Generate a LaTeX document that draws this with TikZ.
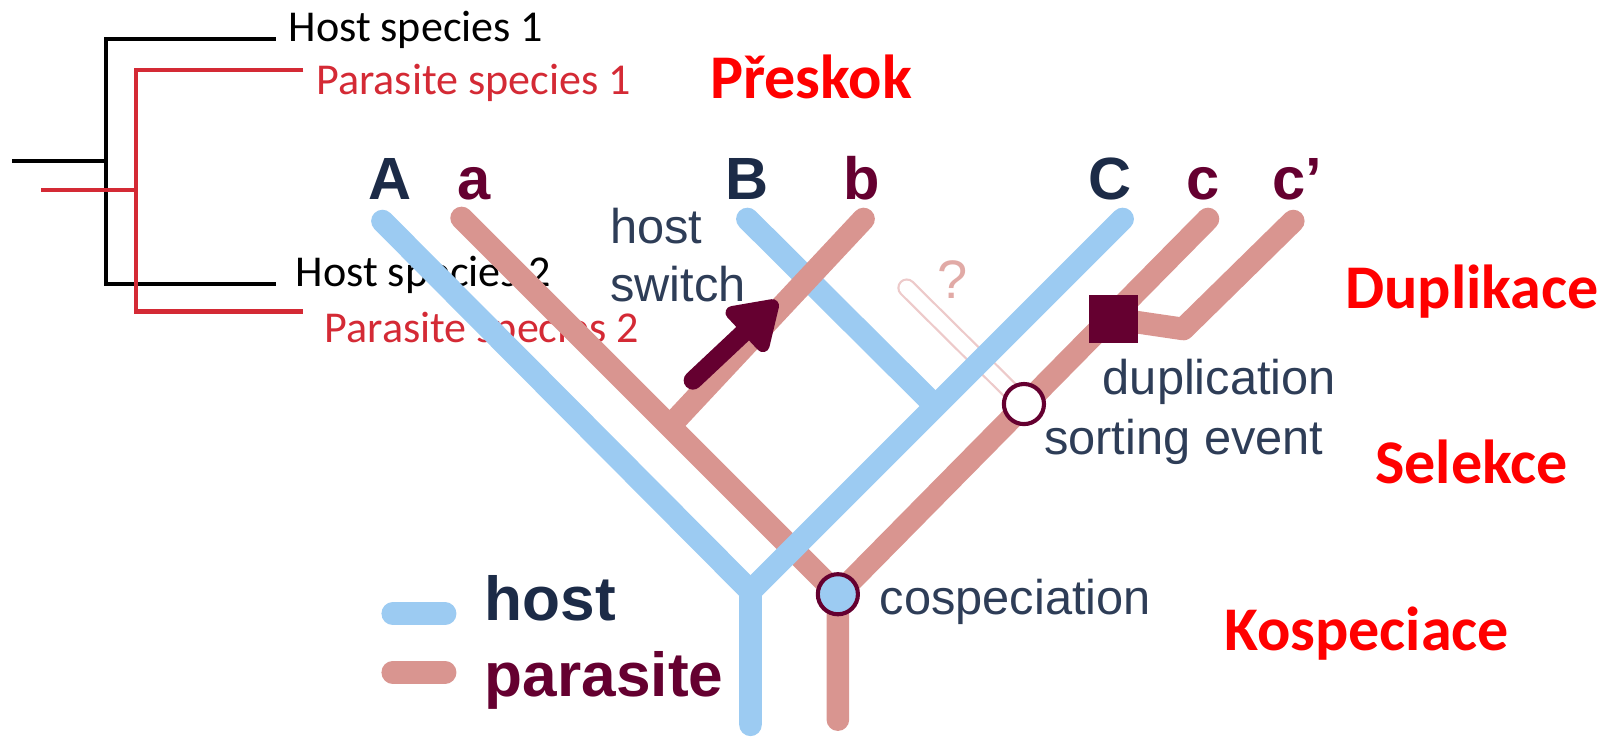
\documentclass[tikz,border=0pt]{standalone}
\usepackage{fontspec}
\setmainfont{Liberation Sans}
\newfontfamily\calib{Carlito}
\usetikzlibrary{arrows.meta}

\definecolor{hostblue}{HTML}{9CCBF2}
\definecolor{parapink}{HTML}{D99590}
\definecolor{maroon}{HTML}{650030}
\definecolor{navy}{HTML}{1C2B47}
\definecolor{treered}{HTML}{D42A35}
\definecolor{ghostpink}{HTML}{EDCACA}
\definecolor{labelgrey}{HTML}{2E3D57}

\tikzset{
  hostline/.style={hostblue, line width=2.2mm, line cap=round, line join=round},
  paraline/.style={parapink, line width=2.2mm, line cap=round, line join=round},
  ghostline/.style={draw=ghostpink, double=white, double distance=1.4mm, line width=0.22mm, line cap=round},
  treeline/.style={line width=0.4mm},
  treetext/.style={anchor=base west, inner sep=0pt, font=\calib\fontsize{12.2}{14}\selectfont},
  tiplabel/.style={anchor=base, inner sep=0pt, font=\bfseries\fontsize{16.5}{19}\selectfont},
  eventtext/.style={anchor=base west, inner sep=0pt, text=labelgrey, font=\fontsize{13.5}{16}\selectfont},
  czlabel/.style={anchor=base west, inner sep=0pt, text=red, font=\calib\bfseries\fontsize{17.2}{20}\selectfont},
  legendtext/.style={anchor=base west, inner sep=0pt, font=\bfseries\fontsize{17.2}{20}\selectfont},
  eventdot/.style={circle, draw=maroon, line width=0.4mm, minimum size=3.9mm, inner sep=0pt},
  dupbox/.style={rectangle, fill=maroon, minimum size=4.7mm, inner sep=0pt},
}

\begin{document}
\begin{tikzpicture}[x=0.1mm, y=-0.1mm]
\useasboundingbox (0,0) rectangle (1568,717);

% the two small trees
\coordinate (hroot0) at (12,157);
\coordinate (hnode) at (103,157);
\coordinate (hleaf1) at (268,38);
\coordinate (hleaf2) at (268,276);
\coordinate (proot0) at (40,185);
\coordinate (pnode) at (132,185);
\coordinate (pleaf1) at (295,68);
\coordinate (pleaf2) at (295,303);
\draw[treeline] (hroot0) -- (hnode);
\draw[treeline] (hleaf1) -| (hnode) |- (hleaf2);
\draw[treeline, treered] (proot0) -- (pnode);
\draw[treeline, treered] (pleaf1) -| (pnode) |- (pleaf2);
\node[treetext] (hs1) at (280,40) {Host species 1};
\node[treetext, text=treered] (ps1) at (307,92) {Parasite species 1};
\node[treetext] (hs2) at (287,279) {Host species 2};
\node[treetext, text=treered] (ps2) at (315,333) {Parasite species 2};

% tips
\node[tiplabel, text=navy] (A) at (379,194) {A};
\node[tiplabel, text=maroon] (a) at (461,194) {a};
\node[tiplabel, text=navy] (B) at (727,194) {B};
\node[tiplabel, text=maroon] (b) at (838,194) {b};
\node[tiplabel, text=navy] (C) at (1080,194) {C};
\node[tiplabel, text=maroon] (c) at (1170,194) {c};
\node[tiplabel, text=maroon] (cc) at (1262,194) {c’};

\coordinate (tA) at (372,215);
\coordinate (tB) at (727,213);
\coordinate (tC) at (1092,213);
\coordinate (hY) at (730,575);
\coordinate (hBC) at (908,393);
\coordinate (hbase) at (730,705);
\coordinate (ta) at (449,212);
\coordinate (tb) at (840,213);
\coordinate (tc) at (1175,213);
\coordinate (tcc) at (1258,215);
\coordinate (pcos) at (815,578);
\coordinate (pswitch) at (652,414);
\coordinate (pdup) at (1083,310);
\coordinate (pbend) at (1151,320);
\coordinate (psort) at (996,393);
\coordinate (pghost) at (882,280);
\coordinate (pbase) at (815,700);

% host and parasite trees
\draw[hostline] (tA) -- (hY) -- (hbase);
\draw[paraline] (ta) -- (pcos) -- (pbase);
\draw[ghostline] (psort) -- (pghost);
\draw[hostline] (tC) -- (hY);
\draw[hostline] (tB) -- (hBC);
\draw[paraline] (tb) -- (pswitch);
\draw[paraline] (tc) -- (pcos);
\draw[paraline] (tcc) -- (pbend) -- (pdup);

% events
\node[dupbox] (dup) at (pdup) {};
\node[eventdot, fill=white] (sort) at (psort) {};
\node[eventdot, fill=hostblue] (cos) at (pcos) {};
\coordinate (sw0) at (674,370);
\coordinate (sw1) at (756,293);
\draw[maroon, line width=1.8mm, line cap=round, -{Triangle[round, length=5.2mm, width=6.4mm]}] (sw0) -- (sw1);
\node[anchor=base, inner sep=0pt, text=parapink!80, font=\fontsize{15}{18}\selectfont] (q) at (927,290) {?};

\node[eventtext] (hsw1) at (593,237) {host};
\node[eventtext] (hsw2) at (593,293) {switch};
\node[eventtext] (dupl) at (1072,384) {duplication};
\node[eventtext] (sortl) at (1015,442) {sorting event};
\node[eventtext] (cosl) at (855,598) {cospeciation};

% legend
\coordinate (lh0) at (382,597);
\coordinate (lh1) at (433,597);
\coordinate (lp0) at (382,654);
\coordinate (lp1) at (433,654);
\draw[hostline] (lh0) -- (lh1);
\draw[paraline] (lp0) -- (lp1);
\node[legendtext, text=navy] (lhost) at (471,604) {host};
\node[legendtext, text=maroon] (lpara) at (471,677) {parasite};

% Czech labels
\node[czlabel] (preskok) at (690,96) {Přeskok};
\node[czlabel] (dupli) at (1308,300) {Duplikace};
\node[czlabel] (selekce) at (1337,470) {Selekce};
\node[czlabel] (kospec) at (1190,633) {Kospeciace};
\end{tikzpicture}
\end{document}
